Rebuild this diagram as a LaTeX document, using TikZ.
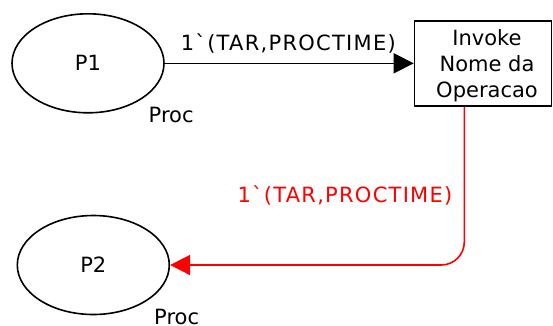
\documentclass[tikz,border=0pt]{standalone}
\usepackage{fontspec}
\setmainfont{DejaVu Sans}[Ligatures=TeXOff]
\usetikzlibrary{arrows.meta,shapes.geometric}
\tikzset{
  place/.style={draw, ellipse, line width=1.6pt, minimum width=152pt, minimum height=99pt, inner sep=0pt, font=\fontsize{21}{26}\selectfont},
  trans/.style={draw, rectangle, line width=1.6pt, minimum width=137pt, minimum height=85pt, inner sep=0pt},
  txt/.style={inner sep=0pt, align=center, font=\fontsize{21}{25.7}\selectfont},
  lbl/.style={inner sep=0pt, font=\fontsize{21}{26}\selectfont},
  arclbl/.style={inner sep=0pt, font=\fontsize{21}{26}\selectfont\addfontfeature{LetterSpace=6}},
  arc/.style={line width=1.6pt, -{Triangle[length=20pt,width=20pt]}},
}
\begin{document}
\begin{tikzpicture}[x=1pt,y=-1pt]
\useasboundingbox (0,0) rectangle (553,325);
\node[place] (p1) at (88,63.3) {P1};
\node[place] (p2) at (93.3,265) {P2};
\node[trans] (t) at (483,63.3) {};
\node[txt, anchor=base] (tt) at (487,97.3) {Invoke\\Nome da\\Operacao};
\node[lbl, anchor=base west] (c1) at (148.5,122.3) {Proc};
\node[lbl, anchor=base west] (c2) at (154,324.5) {Proc};
\node[arclbl, anchor=base west] (a1) at (180.7,50.7) {1`(TAR,PROCTIME)};
\node[arclbl, anchor=base west, text=red] (a2) at (237.3,202.3) {1`(TAR,PROCTIME)};
\draw[arc] (p1.east) -- (t.west |- p1.east);
\draw[arc, red, rounded corners=23pt] ([xshift=-18.7pt]t.south) |- (p2.east);
\end{tikzpicture}
\end{document}
